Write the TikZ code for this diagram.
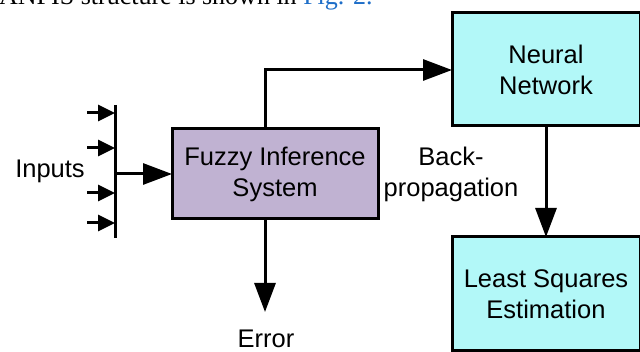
\documentclass[tikz,border=0pt]{standalone}
\usepackage{fontspec}
\setmainfont{Liberation Sans}
\newfontfamily\serifface{Liberation Serif}
\usetikzlibrary{arrows.meta}

\definecolor{fisfill}{RGB}{192,178,210}
\definecolor{nnfill}{RGB}{178,248,248}
\definecolor{refblue}{RGB}{30,110,200}

\tikzset{
  blk/.style={draw=black, line width=3pt, inner sep=0pt, align=center},
  lbl/.style={align=center, inner sep=0pt},
  wire/.style={line width=3pt},
  bigarrow/.style={wire, -{Triangle[length=29pt,width=21pt]}},
  smallarrow/.style={wire, -{Triangle[length=17pt,width=16pt]}},
}

\begin{document}
\begin{tikzpicture}[x=1pt, y=-1pt, font=\fontsize{25.5}{31}\selectfont]
  \useasboundingbox (0,0) rectangle (640,352);
  \clip (0,0) rectangle (640,352);

  % running text line above the figure
  \node[anchor=base west, inner sep=0pt, font=\serifface\fontsize{26}{31}\selectfont]
    (caption) at (-1,5) {ANFIS structure is shown in \textcolor{refblue}{Fig. 2.}};

  % blocks
  \path[blk, fill=fisfill] (172,129) rectangle (378,219);
  \node[lbl] (fis) at (275,174) {Fuzzy Inference\\System};
  \path[blk, fill=nnfill] (452,13) rectangle (640,126);
  \node[lbl] (nn) at (546,69.5) {Neural\\Network};
  \path[blk, fill=nnfill] (452,237) rectangle (640,351);
  \node[lbl] (lse) at (546,294) {Least Squares\\Estimation};

  % named anchor points on the block edges
  \coordinate (fisL) at (172,174);
  \coordinate (fisT) at (265,129);
  \coordinate (fisB) at (265,219);
  \coordinate (nnL) at (452,70);
  \coordinate (nnB) at (546,126);
  \coordinate (lseT) at (546,237);

  % input bus
  \coordinate (busT) at (115,105);
  \coordinate (busB) at (115,238);
  \draw[wire] (busT) -- (busB);
  \foreach \yy [count=\i] in {113,148,193,223} {
    \coordinate (in\i) at (87,\yy);
    \coordinate (bus\i) at (115,\yy);
    \draw[smallarrow] (in\i) -- (bus\i);
  }
  \coordinate (busM) at (115,174);
  \draw[bigarrow] (busM) -- (fisL);

  \node[lbl] (inputs) at (50,171) {Inputs};

  % connections between blocks
  \draw[bigarrow] (fisT) |- (nnL);
  \draw[bigarrow] (nnB) -- (lseT);

  \coordinate (errT) at (265,312);
  \draw[bigarrow] (fisB) -- (errT);
  \node[lbl] (err) at (266,339) {Error};

  \node[lbl] (bp) at (451,174) {Back-\\propagation};
\end{tikzpicture}
\end{document}
